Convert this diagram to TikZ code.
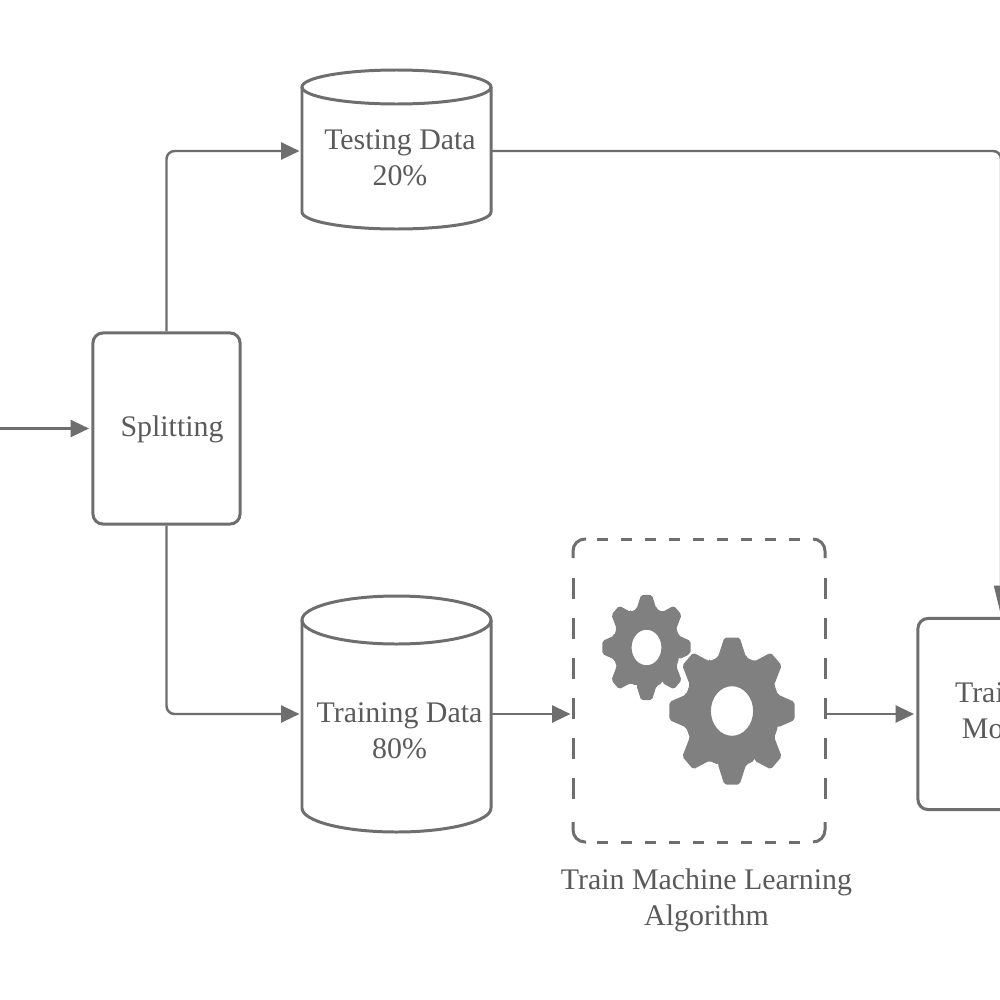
\documentclass[tikz,border=0pt]{standalone}
\usepackage{fontspec}
\setmainfont{Liberation Serif}
\usetikzlibrary{arrows.meta}
\definecolor{ln}{HTML}{6E6E6E}
\definecolor{tx}{HTML}{5A5A5A}
\definecolor{gr}{HTML}{808080}
\tikzset{
  outline/.style={draw=ln,line width=0.85pt},
  roundbox/.style={outline,rounded corners=0.1cm,inner sep=0pt},
  anchorbox/.style={inner sep=0pt,outer sep=0pt},
  lbl/.style={text=tx,font=\fontsize{8.5}{10}\selectfont,align=center,inner sep=0pt},
  conn/.style={draw=ln,line width=0.7pt,rounded corners=0.08cm,-{Triangle[length=5.2pt,width=4.8pt]},shorten >=0.7pt},
  connlong/.style={draw=ln,line width=0.7pt,rounded corners=0.08cm,-{Triangle[length=8.5pt,width=3.9pt]},shorten >=0.4pt},
  dashH/.style={draw=ln,line width=0.85pt,dash pattern=on 3.2pt off 3.63pt},
  dashV/.style={draw=ln,line width=0.85pt,dash pattern=on 5.9pt off 5.48pt},
}
\newcommand{\gearshape}[5]{% cx cy rx ry halo
  \begin{scope}[shift={(#1,#2)},x=#3cm,y=#4cm]
    \path[fill=gr,even odd rule,rounded corners=0.55pt,preaction={draw=#5,line width=1.3pt}]
      (-17:.76) \foreach \a in {0,45,...,315}{
        -- (\a-17:.76) -- (\a-7:1) -- (\a+7:1) -- (\a+17:.76) -- (\a+28:.76)
      } -- cycle
      (0,0) ellipse [x radius=.335,y radius=.335];
  \end{scope}
}
\begin{document}
\begin{tikzpicture}[x=0.01cm,y=-0.01cm]
\useasboundingbox (0,0) rectangle (1000,1000);
\clip (0,0) rectangle (1000,1000);
\fill[white] (0,0) rectangle (1000,1000);

% Named nodes
\node[roundbox,minimum width=1.47cm,minimum height=1.91cm] (split) at (166.5,428.5) {};
\node[anchorbox,minimum width=1.89cm,minimum height=1.6cm] (test) at (396.5,151) {};
\node[anchorbox,minimum width=1.89cm,minimum height=2.36cm] (train) at (396.5,714) {};
\node[anchorbox,minimum width=2.52cm,minimum height=3.03cm] (algo) at (699,714) {};
\node[roundbox,minimum width=1.66cm,minimum height=1.91cm] (model) at (1001,714) {};
\coordinate (inp) at (-5,428.5);

% Cylinders
\draw[outline] (302,87) -- (302,212) arc[start angle=180,end angle=0,x radius=94.5,y radius=17] -- (491,87);
\draw[outline] (396.5,87) ellipse [x radius=94.5,y radius=17];
\draw[outline] (302,620) -- (302,808) arc[start angle=180,end angle=0,x radius=94.5,y radius=24] -- (491,620);
\draw[outline] (396.5,620) ellipse [x radius=94.5,y radius=24];

% Dashed algorithm frame
\draw[dashH] (597,539) -- (808,539);
\draw[dashH] (597,842) -- (808,842);
\draw[dashV] (573,578) -- (573,802);
\draw[dashV] (825,578) -- (825,802);
\draw[outline] (573,558) -- (573,551) arc[start angle=180,end angle=270,x radius=12,y radius=12] -- (586,539);
\draw[outline] (813,539) arc[start angle=270,end angle=360,x radius=12,y radius=12] -- (825,558);
\draw[outline] (573,822) -- (573,830) arc[start angle=180,end angle=90,x radius=12,y radius=12] -- (586,842);
\draw[outline] (813,842) arc[start angle=90,end angle=0,x radius=12,y radius=12] -- (825,822);

% Gears
\gearshape{646.5}{647.5}{.445}{.53}{white}
\gearshape{732}{711}{.63}{.74}{white}

% Connectors
\draw[conn] (inp) -- (split.west);
\draw[conn] (split.north) |- (test.west);
\draw[conn] (split.south) |- (train.west);
\draw[connlong] (test.east) -| (model.north);
\draw[conn] (train.east) -- (algo.west);
\draw[conn] (algo.east) -- (model.west);

% Labels
\node[lbl] (splitl) at (172,429) {Splitting};
\node[lbl] (testl) at (400,157.5) {Testing Data\\[0.2pt]20\%};
\node[lbl] (trainl) at (399.5,731) {Training Data\\[0.2pt]80\%};
\node[lbl] (algol) at (706.5,900.5) {Train Machine Learning\\[0.2pt]Algorithm};
\node[lbl] (modell) at (1001,710) {Trained\\[0.2pt]Model};
\end{tikzpicture}
\end{document}
